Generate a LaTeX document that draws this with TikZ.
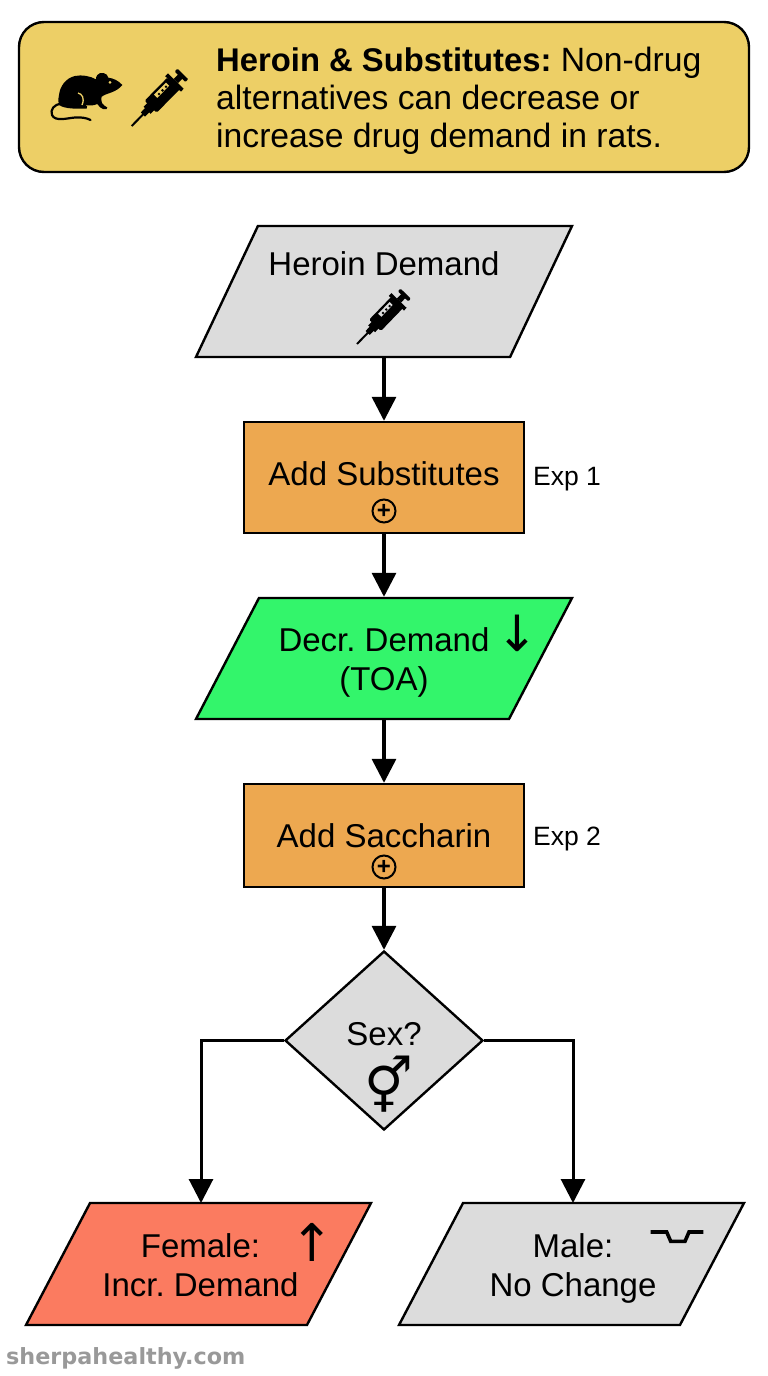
\documentclass[tikz,border=0pt]{standalone}
\usepackage{fontspec}
\setmainfont{Liberation Sans}
\newfontfamily\symfont{DejaVu Sans}
\newfontfamily\markfont{DejaVu Sans}
\usetikzlibrary{
    arrows.meta,      % For the connector tips
    positioning,      % For the side labels
    shapes.geometric  % For parallelograms and the diamond
}
\definecolor{bannercol}{HTML}{EDCF66}
\definecolor{greycol}{HTML}{DCDCDC}
\definecolor{orangecol}{HTML}{EDA850}
\definecolor{greencol}{HTML}{33F56B}
\definecolor{redcol}{HTML}{FB7B60}
\definecolor{markcol}{HTML}{999999}

% Invisible strut that sets the height of a slanted shape
\newcommand{\slantheight}[1]{\phantom{\rule{1pt}{#1pt}}}

\tikzset{
    syringe/.pic={
        \draw[line width=2pt] (0,0) -- (17,0);
        \fill (16,-3) rectangle (23,3);
        \fill (22,-5) rectangle (28,5);
        \fill[rounded corners=1.5pt] (27,-8.5) rectangle (60,8.5);
        \fill (59,-11) rectangle (63,11);
        \fill (63,-3) rectangle (70,3);
        \fill[rounded corners=1pt] (69,-7.5) rectangle (73,7.5);
        % Window with tick marks
        \fill[#1] (38,-6) rectangle (55,-1.5);
        \foreach \t in {41,46,51}
            \fill (\t,-2) rectangle (\t+2,-4);
    }
}

\begin{document}
\frenchspacing
\begin{tikzpicture}[
    x=1pt, y=-1pt,
    font=\fontsize{33}{39}\selectfont,
    shape_base/.style={draw=black, line width=2.4pt, inner sep=0pt, align=center},
    slant_style/.style={shape_base, trapezium, trapezium stretches body=true,
        trapezium left angle=#1, trapezium right angle=180-#1},
    box_style/.style={shape_base, rectangle, minimum width=280, fill=orangecol},
    flow_style/.style={-{Stealth[length=24pt, width=24pt, inset=0pt]}, line width=3.4pt},
    side_style/.style={inner sep=0pt, font=\fontsize{26.5}{30}\selectfont},
    sym_style/.style={font=\symfont\fontsize{#1}{#1}\selectfont},
    plus_style/.style={circle, draw=black, line width=2pt, minimum size=23, inner sep=0pt,
        font=\bfseries\fontsize{24}{24}\selectfont}
]
    \useasboundingbox (0,0) rectangle (768,1376);

    % Banner
    \node[draw=black, line width=2.4pt, fill=bannercol, rounded corners=25pt, minimum width=730, minimum height=150,
        inner sep=0pt] (banner) at (384,97) {};
    \node[anchor=west, align=left, inner sep=0pt, font=\fontsize{33.7}{38}\selectfont] (bannertext) at (216,101)
        {{\fontsize{32.8}{38}\selectfont\bfseries Heroin \& Substitutes:} Non-drug\\alternatives can decrease or\\increase drug demand in rats.};

    % Rat in the banner
    \fill (122.3,85) .. controls (119,81) and (113,78) .. (108.3,77.7)
        .. controls (108,73) and (100,71) .. (97.3,75)
        .. controls (96,77) and (96,78) .. (96,79.3)
        .. controls (90,76) and (82,74.5) .. (75,76)
        .. controls (66,78) and (60,86) .. (59,95)
        .. controls (58,100) and (58,103) .. (59.3,105)
        .. controls (64,109) and (78,109) .. (86.7,108.5)
        .. controls (88,107) and (87,105.5) .. (85,105)
        .. controls (90,106) and (94,105.5) .. (97.3,104)
        .. controls (99,106.5) and (101,108.5) .. (103,109)
        .. controls (106,109.5) and (108,109) .. (107.3,107.5)
        .. controls (105,106) and (103,105) .. (102,103)
        .. controls (101,100) and (101,98) .. (101.7,96.7)
        .. controls (106,93) and (116,93) .. (122.3,85) -- cycle;
    \draw[bannercol, line width=1.3pt] (78,93) .. controls (82,94) and (85,98) .. (82,105);
    \fill[bannercol] (110,82.3) circle (1.5pt);
    \draw[line width=2.2pt, line cap=round] (61,104) .. controls (54,104) and (50,110) .. (52,115)
        .. controls (55,122) and (68,118) .. (75,117.5)
        .. controls (81,117) and (87,118) .. (90.5,120);
    \pic at (131.7,126) [rotate=45.5] {syringe=bannercol};

    % Heroin demand
    \node[slant_style=64.7, minimum width=376, fill=greycol] (heroin) at (384,291.5) {\slantheight{131}};
    \node (heroinlabel) at (384,264) {Heroin Demand};
    \pic at (357,344) [rotate=46, scale=0.96] {syringe=greycol};

    % Experiment 1
    \node[box_style, minimum height=111] (addsub) at (384,477.5) {};
    \node (addsublabel) at (384,474) {Add Substitutes};
    \node[plus_style] (addsubplus) at (384,511) {+};
    \node[side_style, anchor=west] (expone) at (533,479) {Exp 1};

    % Decreased demand
    \node[slant_style=62.5, minimum width=376, fill=greencol] (decr) at (384,658.5) {\slantheight{121}};
    \node[align=center] (decrlabel) at (384,662) {Decr. Demand\\(TOA)};
    \node[sym_style=50] (decrarrow) at (517,633) {↓};

    % Experiment 2
    \node[box_style, minimum height=103] (addsac) at (384,835.5) {Add Saccharin};
    \node[plus_style] (addsacplus) at (384,867) {+};
    \node[side_style, anchor=west] (exptwo) at (533,839) {Exp 2};

    % Sex decision
    \node[shape_base, diamond, aspect=1.1, minimum width=198, minimum height=179, fill=greycol] (sex) at (384,1040.5) {};
    \node (sexlabel) at (384,1034) {Sex?};
    \node[sym_style=54] (sexsym) at (388.5,1084.5) {\bfseries ⚥};

    % Outcomes
    \node[slant_style=62.3, minimum width=345, fill=redcol] (female) at (198.5,1264) {\slantheight{122}};
    \node[align=center] (femalelabel) at (200.5,1265) {Female:\\Incr. Demand};
    \node[sym_style=52] (femalearrow) at (312,1242) {↑};
    \node[slant_style=62.3, minimum width=345, fill=greycol] (male) at (571.5,1264) {\slantheight{122}};
    \node[align=center] (malelabel) at (573,1268) {Male:\\No Change};
    \draw[line width=3.6pt] (650.7,1232) -- (666.7,1232) -- (670.7,1241.3) -- (685,1241.3) -- (689,1232) -- (703.3,1232);

    % Connectors
    \coordinate (femaletop) at (201,1203);
    \coordinate (maletop) at (573,1203);
    \draw[flow_style] (heroin.south -| addsub.north) -- (addsub.north);
    \draw[flow_style] (addsub.south) -- (decr.north -| addsub.south);
    \draw[flow_style] (decr.south -| addsac.north) -- (addsac.north);
    \draw[flow_style] (addsac.south) -- (sex.north);
    \draw[flow_style, line width=3pt] (sex.west) -| (femaletop);
    \draw[flow_style, line width=3pt] (sex.east) -| (maletop);

    \node[anchor=west, inner sep=0pt, text=markcol, font=\markfont\bfseries\fontsize{22.3}{24}\selectfont] (mark) at (6,1358.5) {sherpahealthy.com};
\end{tikzpicture}
\end{document}
